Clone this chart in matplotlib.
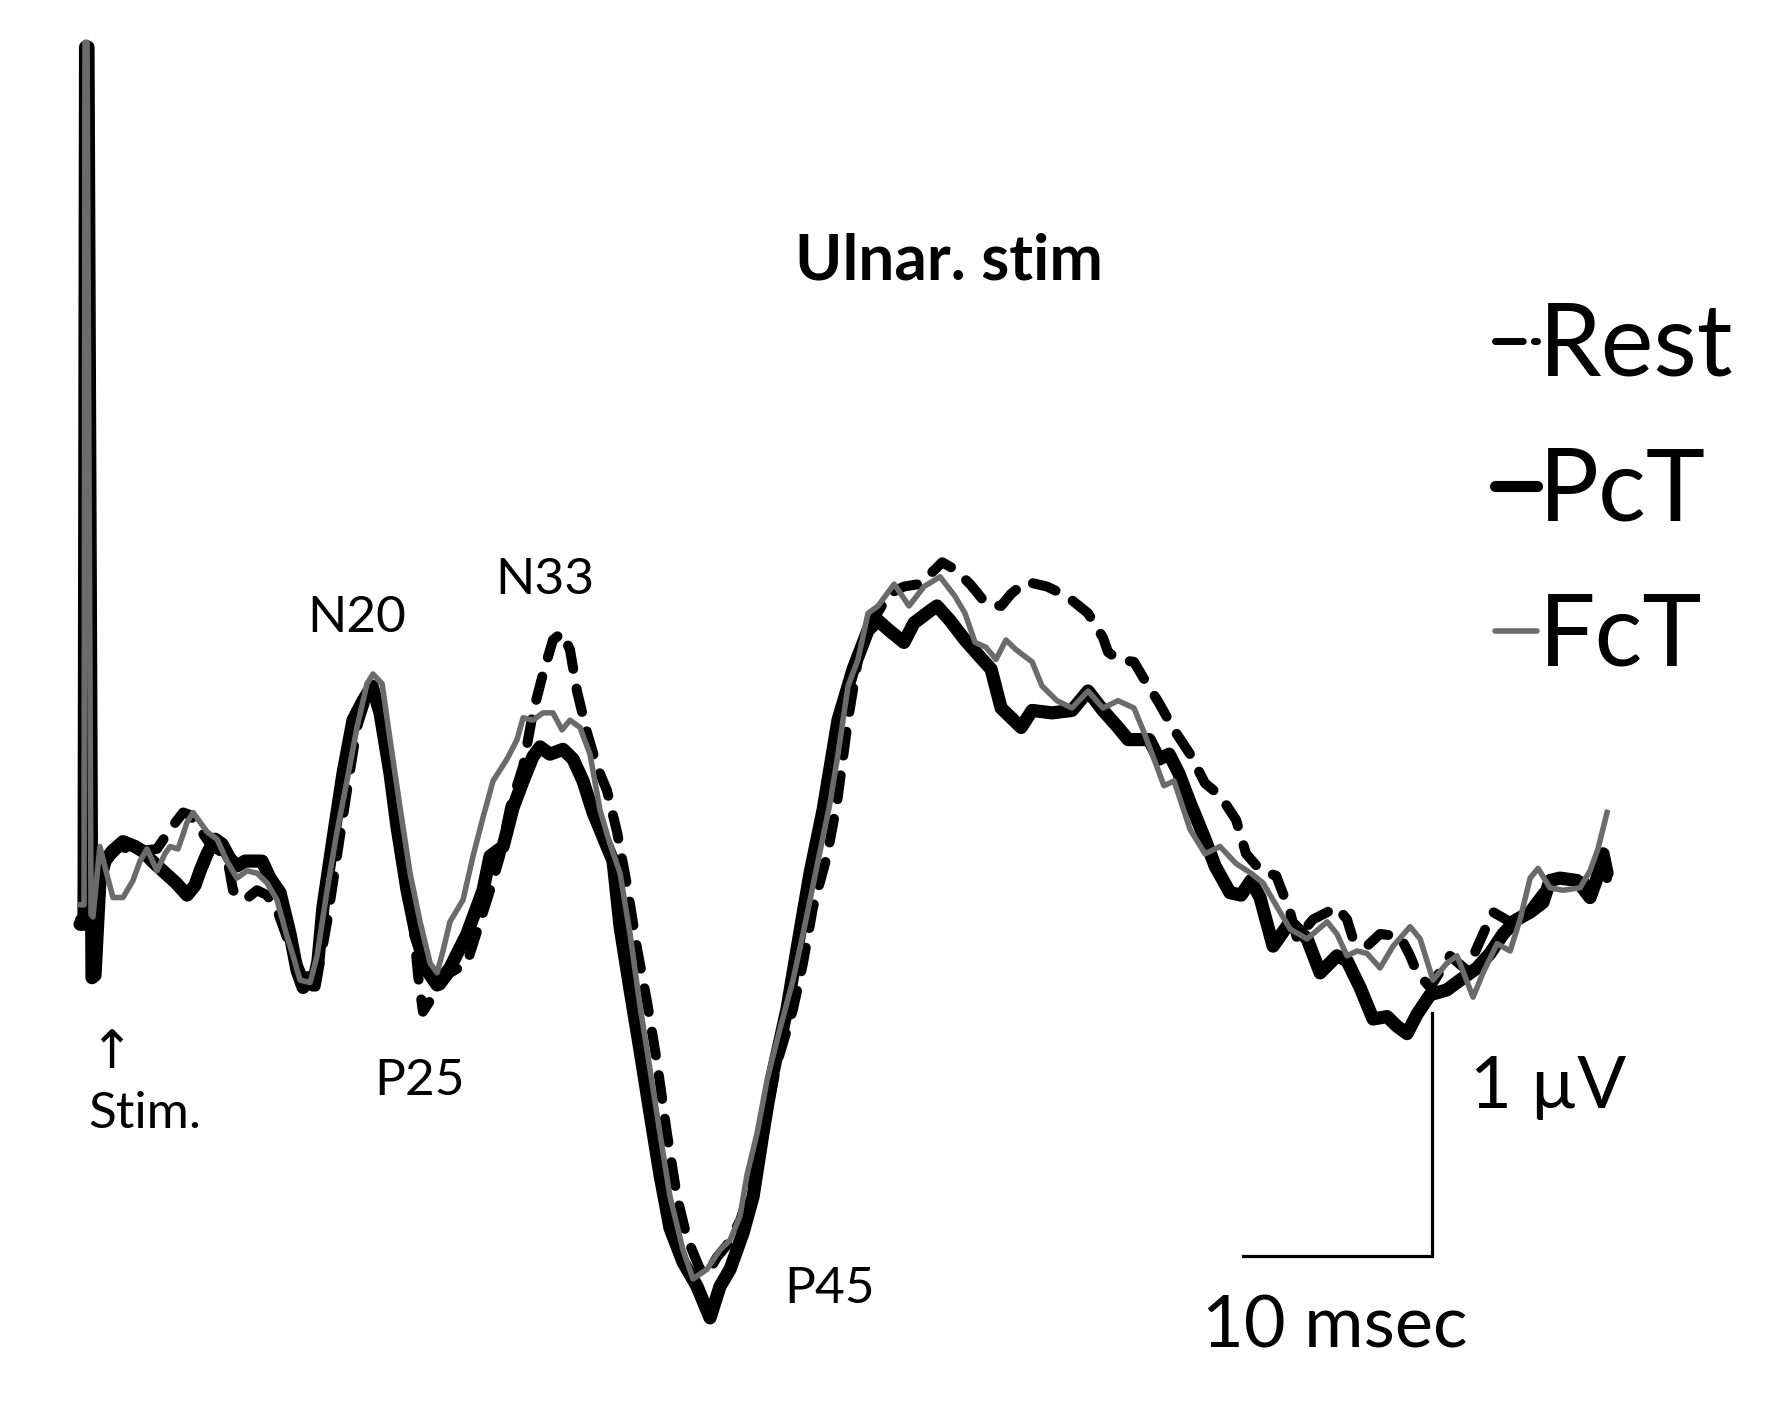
import matplotlib
matplotlib.use("Agg")
import matplotlib.pyplot as plt
from matplotlib.lines import Line2D

plt.rcParams['font.family'] = ['Lato', 'DejaVu Sans']

# ---------------- data (time in ms from stimulus, amplitude in µV; negative drawn up) ----------------
series_names = ["Rest", "PcT", "FcT"]
title_text = "Ulnar. stim"
peak_labels = ["N20", "N33", "P25", "P45"]

pct_t = [-0.42, -0.21, -0.13, 0.00, 0.21, 0.37, 0.63, 0.90, 1.27, 1.85, 2.49, 2.91, 3.39, 3.81, 4.23,
         4.66, 5.24, 5.66, 5.93, 6.30, 6.72, 7.09, 7.51, 7.88, 8.31, 8.73, 9.21, 9.63, 10.16, 10.69,
         11.06, 11.38, 11.64, 11.90, 12.17, 12.43, 12.96, 13.49, 14.02, 14.55, 15.03, 15.45, 15.98,
         16.35, 16.88, 17.41, 17.94, 18.47, 19.15, 20.05, 20.90, 21.27, 21.96, 22.49, 23.02, 23.54,
         23.92, 24.44, 25.13, 25.66, 26.19, 26.72, 27.25, 27.78, 28.15, 28.68, 29.21, 29.74, 30.26,
         30.79, 31.48, 32.22, 32.91, 33.44, 33.97, 34.66, 35.19, 35.71, 36.24, 36.98, 37.67, 38.20,
         38.89, 39.68, 40.48, 41.27, 41.80, 42.38, 43.17, 43.70, 44.55, 44.92, 45.61, 46.40, 47.20,
         47.78, 48.31, 48.84, 49.37, 49.95, 51.01, 52.06, 52.91, 53.70, 54.50, 55.03, 56.14, 56.67,
         57.20, 57.72, 58.31, 59.10, 59.63, 60.42, 61.01, 61.53, 62.01, 62.70, 63.60, 64.50, 65.19,
         66.08, 66.61, 67.30, 67.99, 68.73, 69.26, 69.79, 70.32, 71.01, 71.90, 72.59, 73.49, 74.18,
         74.87, 75.61, 76.30, 76.98, 77.35, 77.88, 78.78, 79.47, 79.84, 80.16, 80.37]
pct_uv = [0.10, 0.10, -3.51, -3.51, 0.32, 0.31, -0.08, -0.16, -0.20, -0.24, -0.22, -0.20, -0.16, -0.13,
          -0.10, -0.07, -0.02, -0.06, -0.12, -0.19, -0.25, -0.23, -0.17, -0.14, -0.16, -0.16, -0.16,
          -0.09, -0.03, 0.14, 0.29, 0.36, 0.32, 0.35, 0.25, 0.03, -0.25, -0.52, -0.74, -0.82, -0.88,
          -0.77, -0.52, -0.30, -0.04, 0.16, 0.29, 0.35, 0.28, 0.14, -0.04, -0.18, -0.22, -0.38, -0.49,
          -0.59, -0.63, -0.60, -0.62, -0.58, -0.49, -0.36, -0.26, -0.16, 0.11, 0.37, 0.62, 0.88, 1.13,
          1.35, 1.49, 1.59, 1.72, 1.59, 1.52, 1.37, 1.22, 0.96, 0.71, 0.45, 0.13, -0.11, -0.37, -0.74,
          -0.95, -1.11, -1.15, -1.11, -1.06, -1.14, -1.19, -1.21, -1.15, -1.07, -1.00, -0.95, -0.79,
          -0.75, -0.71, -0.78, -0.77, -0.78, -0.86, -0.78, -0.71, -0.66, -0.66, -0.58, -0.60, -0.52,
          -0.40, -0.25, -0.14, -0.03, -0.02, -0.08, -0.01, 0.19, 0.09, 0.16, 0.30, 0.23, 0.25, 0.36,
          0.49, 0.48, 0.52, 0.55, 0.47, 0.39, 0.37, 0.33, 0.28, 0.22, 0.14, 0.08, 0.05, 0.01, -0.08,
          -0.09, -0.08, -0.01, -0.09, -0.19, -0.11]

fct_t = [-0.42, -0.21, -0.16, -0.05, 0.16, 0.26, 0.63, 0.95, 1.32, 1.85, 2.38, 2.75, 3.12, 3.65, 4.07,
         4.34, 4.76, 5.03, 5.24, 5.56, 5.93, 6.30, 6.83, 7.35, 7.88, 8.41, 8.94, 9.47, 10.00, 10.53,
         10.85, 11.22, 11.75, 12.12, 12.65, 13.17, 13.70, 14.23, 14.76, 15.08, 15.56, 15.98, 16.51,
         17.04, 17.57, 18.10, 18.47, 18.78, 19.15, 19.84, 20.37, 20.90, 21.43, 22.17, 22.70, 23.02,
         23.54, 24.07, 24.60, 25.08, 25.50, 26.03, 26.56, 27.09, 27.62, 28.15, 28.68, 29.21, 29.58,
         30.26, 30.79, 31.48, 32.01, 32.75, 33.44, 33.97, 34.50, 34.87, 35.40, 35.93, 36.61, 37.30,
         37.83, 38.57, 39.26, 39.68, 40.21, 40.74, 41.27, 41.80, 42.65, 43.44, 44.23, 45.08, 45.87,
         46.40, 46.93, 47.51, 48.04, 48.57, 49.10, 49.95, 50.48, 51.27, 52.06, 52.91, 53.70, 54.50,
         55.34, 55.87, 56.40, 56.93, 57.46, 58.31, 59.10, 59.89, 60.74, 61.53, 62.17, 63.07, 63.60,
         64.50, 65.56, 66.08, 66.61, 67.14, 67.67, 68.36, 69.05, 69.95, 70.48, 71.16, 71.90, 72.43,
         73.28, 73.81, 74.55, 75.24, 75.77, 76.30, 76.72, 77.35, 78.04, 78.94, 79.47, 79.89, 80.37]
fct_uv = [0.02, 0.02, -3.53, -3.53, 0.06, 0.07, -0.22, -0.12, -0.01, -0.01, -0.08, -0.16, -0.21, -0.12,
          -0.19, -0.22, -0.21, -0.27, -0.32, -0.36, -0.32, -0.28, -0.25, -0.16, -0.09, -0.12, -0.11,
          -0.07, 0.00, 0.15, 0.23, 0.33, 0.34, 0.23, -0.04, -0.28, -0.49, -0.71, -0.89, -0.93, -0.89,
          -0.66, -0.38, -0.11, 0.09, 0.26, 0.30, 0.21, 0.09, 0.00, -0.18, -0.34, -0.49, -0.58, -0.66,
          -0.75, -0.74, -0.77, -0.77, -0.70, -0.74, -0.71, -0.60, -0.37, -0.23, -0.11, 0.14, 0.44, 0.62,
          0.96, 1.22, 1.44, 1.56, 1.52, 1.44, 1.40, 1.30, 1.13, 0.96, 0.74, 0.53, 0.33, 0.14, -0.14,
          -0.40, -0.60, -0.88, -0.99, -1.18, -1.21, -1.30, -1.21, -1.29, -1.33, -1.25, -1.18, -1.06,
          -1.04, -0.99, -1.07, -1.03, -0.98, -0.88, -0.82, -0.79, -0.86, -0.79, -0.82, -0.79, -0.69,
          -0.58, -0.47, -0.49, -0.29, -0.19, -0.22, -0.15, -0.11, -0.07, 0.05, 0.12, 0.16, 0.09, 0.14,
          0.23, 0.21, 0.22, 0.28, 0.19, 0.11, 0.16, 0.33, 0.26, 0.23, 0.40, 0.30, 0.18, 0.21, 0.08,
          -0.09, -0.13, -0.05, -0.04, -0.05, -0.12, -0.21, -0.36]

rest_t = [-0.42, -0.21, -0.13, 0.00, 0.16, 0.37, 0.79, 1.69, 2.59, 3.65, 4.34, 5.03, 5.40, 5.93, 6.46,
          7.35, 7.67, 8.31, 8.94, 9.47, 10.00, 10.69, 11.32, 12.01, 12.65, 13.17, 13.70, 14.23, 14.76,
          15.08, 15.61, 16.14, 16.67, 17.20, 17.46, 17.72, 18.47, 19.15, 20.05, 20.74, 21.27, 21.80,
          22.33, 23.02, 23.54, 24.07, 24.60, 25.08, 25.50, 25.87, 26.40, 26.93, 27.46, 27.99, 28.52,
          29.05, 29.58, 30.11, 30.63, 31.16, 31.69, 32.38, 32.75, 33.28, 33.81, 34.50, 35.19, 35.93,
          36.46, 37.30, 37.83, 38.36, 39.10, 39.63, 40.21, 40.74, 41.53, 42.38, 43.17, 43.97, 44.81,
          45.19, 45.87, 46.67, 47.51, 48.31, 48.84, 49.63, 50.74, 51.80, 52.91, 53.70, 53.97, 54.50,
          55.34, 55.87, 56.67, 57.46, 58.31, 59.10, 59.89, 60.74, 61.27, 62.06, 62.86, 63.60, 63.97,
          64.81, 66.08, 66.61, 66.93, 67.67, 68.36, 69.42, 69.95, 70.32, 71.01, 72.06, 72.96, 73.81,
          74.34, 75.24, 76.30, 76.98, 77.72, 78.78, 79.47, 80.16, 80.37]
rest_uv = [0.08, 0.08, -3.50, -3.50, 0.25, 0.23, -0.15, -0.22, -0.20, -0.21, -0.29, -0.36, -0.35, -0.29,
           -0.23, -0.18, -0.04, 0.00, -0.04, -0.02, 0.04, 0.19, 0.31, 0.37, 0.09, -0.18, -0.45, -0.71,
           -0.84, -0.86, -0.73, -0.45, -0.18, 0.09, 0.31, 0.46, 0.37, 0.30, 0.26, 0.09, -0.04, -0.18,
           -0.38, -0.55, -0.77, -0.93, -1.07, -1.10, -1.03, -0.86, -0.69, -0.55, -0.45, -0.28, -0.06,
           0.20, 0.42, 0.67, 0.96, 1.22, 1.39, 1.52, 1.54, 1.47, 1.42, 1.32, 1.16, 0.88, 0.67, 0.45,
           0.26, 0.03, -0.18, -0.40, -0.74, -0.99, -1.15, -1.26, -1.29, -1.30, -1.36, -1.39, -1.36,
           -1.30, -1.22, -1.21, -1.26, -1.31, -1.29, -1.25, -1.18, -1.08, -1.02, -0.99, -0.98, -0.91,
           -0.81, -0.70, -0.60, -0.48, -0.43, -0.33, -0.19, -0.12, -0.10, 0.05, 0.16, 0.08, 0.03, 0.08,
           0.16, 0.19, 0.14, 0.15, 0.23, 0.30, 0.36, 0.23, 0.29, 0.14, 0.05, 0.09, 0.04, -0.03, -0.09,
           -0.08, -0.07, -0.15, -0.09]

# scale bar: 10 ms x 1 µV
scale_ms = 10
scale_uv = 1
scale_origin_t = 71.11   # corner of the scale bar (ms)
scale_origin_uv = 1.465  # corner of the scale bar (µV)

# ---------------- figure ----------------
fig = plt.figure(figsize=(17.73, 14.17), dpi=100)
ax = fig.add_axes([0, 0, 1, 1])
ax.set_xlim(-4.656, 89.15)
ax.set_ylim(2.128, -3.704)   # negative up (EEG convention)
ax.axis('off')

grey = '#6b6b6b'
l_pct, = ax.plot(pct_t, pct_uv, color='black', lw=9.5, solid_joinstyle='round',
                 solid_capstyle='round', zorder=2)
l_rest, = ax.plot(rest_t, rest_uv, color='black', lw=7.2, dashes=(2.4, 2.0),
                  dash_capstyle='round', dash_joinstyle='round', zorder=3)
l_fct, = ax.plot(fct_t, fct_uv, color=grey, lw=4.0, solid_joinstyle='round', zorder=4)

# scale bar
ax.plot([scale_origin_t - scale_ms, scale_origin_t, scale_origin_t],
        [scale_origin_uv, scale_origin_uv, scale_origin_uv - scale_uv],
        color='black', lw=2.3, solid_joinstyle='miter', zorder=5)

# texts
ax.text(0.535, 0.8024, title_text, transform=ax.transAxes, ha='center', va='baseline',
        fontsize=46, fontweight='bold')
ax.text(0.2014, 0.554, peak_labels[0], transform=ax.transAxes, ha='center', va='baseline', fontsize=37)
ax.text(0.3074, 0.581, peak_labels[1], transform=ax.transAxes, ha='center', va='baseline', fontsize=37)
ax.text(0.2369, 0.2273, peak_labels[2], transform=ax.transAxes, ha='center', va='baseline', fontsize=37)
ax.text(0.468, 0.0805, peak_labels[3], transform=ax.transAxes, ha='center', va='baseline', fontsize=37)
ax.text(0.0505, 0.246, "↑", transform=ax.transAxes, ha='left', va='baseline', fontsize=38,
        family=['DejaVu Sans'])
ax.text(0.0496, 0.204, "Stim.", transform=ax.transAxes, ha='left', va='baseline', fontsize=37)
ax.text(0.829, 0.218, "1 µV", transform=ax.transAxes, ha='left', va='baseline', fontsize=52)
ax.text(0.678, 0.0494, "10 msec", transform=ax.transAxes, ha='left', va='baseline', fontsize=52)

# legend
h_rest = Line2D([], [], color='black', lw=5, dashes=(4.0, 1.6, 0.5, 1.6), dash_capstyle='round')
h_pct = Line2D([], [], color='black', lw=8, solid_capstyle='round')
h_fct = Line2D([], [], color=grey, lw=4, solid_capstyle='round')
ax.legend([h_rest, h_pct, h_fct], series_names, loc='upper left',
          bbox_to_anchor=(1495 / 1773, 0.787), bbox_transform=ax.transAxes,
          frameon=False, fontsize=72, handlelength=0.42, handletextpad=0.02,
          labelspacing=0.54, borderpad=0, borderaxespad=0)

fig.savefig("out.png", dpi=100, facecolor='white')
